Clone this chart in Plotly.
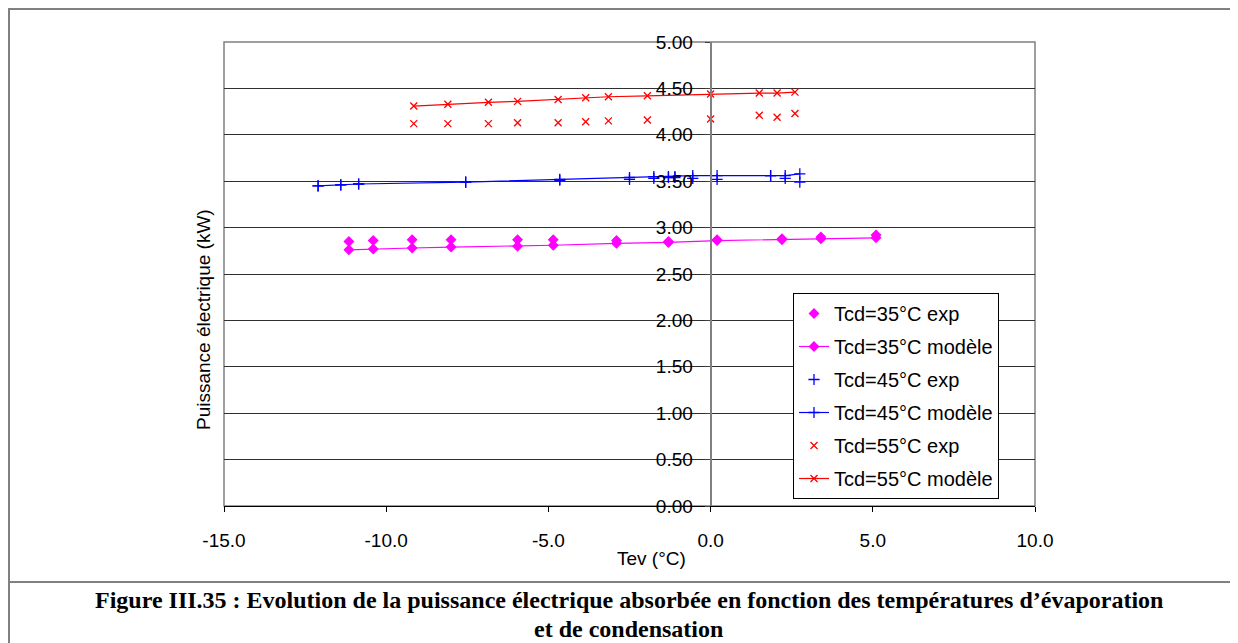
import plotly.graph_objects as go

# ---------------- data ----------------
mag_tev = [-11.15, -10.4, -9.2, -8.0, -5.95, -4.85, -2.9, -1.3, 0.2, 2.2, 3.4, 5.1]
mag_exp = [2.85, 2.86, 2.87, 2.87, 2.87, 2.87, 2.86, 2.85, 2.87, 2.88, 2.90, 2.92]
mag_model = [2.76, 2.77, 2.78, 2.79, 2.80, 2.81, 2.83, 2.84, 2.86, 2.87, 2.88, 2.89]

blue_tev = [-12.1, -11.4, -10.85, -7.55, -4.65, -2.5, -1.75, -1.3, -1.1, -0.55, 0.2, 1.85, 2.3, 2.75]
blue_exp = [3.45, 3.46, 3.47, 3.49, 3.51, 3.52, 3.53, 3.54, 3.54, 3.53, 3.52, 3.56, 3.53, 3.49]
blue_model = [3.45, 3.46, 3.47, 3.49, 3.52, 3.54, 3.55, 3.55, 3.55, 3.56, 3.56, 3.56, 3.56, 3.58]

red_tev = [-9.15, -8.1, -6.85, -5.95, -4.7, -3.85, -3.15, -1.95, 0.0, 1.5, 2.05, 2.6]
red_exp = [4.12, 4.12, 4.12, 4.13, 4.13, 4.14, 4.15, 4.16, 4.17, 4.21, 4.19, 4.23]
red_model = [4.31, 4.33, 4.35, 4.36, 4.38, 4.40, 4.41, 4.42, 4.44, 4.45, 4.45, 4.46]

x_tickvals = [-15, -10, -5, 0, 5, 10]
x_ticktext = ["-15.0", "-10.0", "-5.0", "0.0", "5.0", "10.0"]
y_tickvals = [0, 0.5, 1, 1.5, 2, 2.5, 3, 3.5, 4, 4.5, 5]
y_ticktext = ["0.00", "0.50", "1.00", "1.50", "2.00", "2.50", "3.00", "3.50", "4.00", "4.50", "5.00"]

names = ["Tcd=35°C exp", "Tcd=35°C modèle", "Tcd=45°C exp", "Tcd=45°C modèle",
         "Tcd=55°C exp", "Tcd=55°C modèle"]

x_title = "Tev (°C)"
y_title = "Puissance électrique (kW)"
caption_1 = ("Figure III.35 : Evolution de la puissance électrique absorbée en fonction des "
             "températures d’évaporation")
caption_2 = "et de condensation"

# ---------------- layout geometry ----------------
# the page body has an 8px margin: figure pixel = screen pixel - 8
OFF = 8
W, H = 1238 - OFF, 643 - OFF
L, R, T, B = 224 - OFF, 1035 - OFF, 42 - OFF, 506 - OFF
PW, PH = R - L, B - T


def px(xs):
    """screen x -> paper x"""
    return (xs - OFF - L) / PW


def py(ys):
    """screen y -> paper y"""
    return (B - (ys - OFF)) / PH


FONT = "Arial, Liberation Sans, sans-serif"
SERIF = "Liberation Serif, Times New Roman, serif"
MAG, BLUE, RED = "#FF00FF", "#0000FF", "#FF0000"

fig = go.Figure()

specs = [
    (mag_tev, mag_exp, names[0], MAG, "diamond", 7, "markers"),
    (mag_tev, mag_model, names[1], MAG, "diamond", 7, "lines+markers"),
    (blue_tev, blue_exp, names[2], BLUE, "cross-thin", 8, "markers"),
    (blue_tev, blue_model, names[3], BLUE, "cross-thin", 8, "lines+markers"),
    (red_tev, red_exp, names[4], RED, "x-thin", 7, "markers"),
    (red_tev, red_model, names[5], RED, "x-thin", 7, "lines+markers"),
]
for i, (xs, ys, nm, col, sym, sz, mode) in enumerate(specs):
    fig.add_trace(go.Scatter(
        x=xs, y=ys, name=nm, mode=mode, legendgroup=f"g{i}",
        line=dict(color=col, width=1.2),
        marker=dict(symbol=sym, size=sz, color=col,
                    line=dict(color=col, width=1.3)),
    ))

shapes = [
    # plot-area border
    dict(type="rect", xref="paper", yref="paper", x0=0, x1=1, y0=0, y1=1,
         line=dict(color="#808080", width=1.5), layer="below"),
    # outer frame
    dict(type="rect", xref="paper", yref="paper", x0=px(9), x1=px(1235), y0=py(9), y1=py(680),
         line=dict(color="#808080", width=2), layer="below"),
    # caption separator
    dict(type="line", xref="paper", yref="paper", x0=px(9), x1=px(1235), y0=py(582), y1=py(582),
         line=dict(color="#808080", width=2), layer="below"),
]

annotations = [
    dict(text=x_title, xref="paper", yref="paper", x=px(651), y=py(558),
         showarrow=False, font=dict(family=FONT, size=19, color="black"),
         xanchor="center", yanchor="middle"),
    dict(text=y_title, xref="paper", yref="paper", x=px(203), y=py(320),
         showarrow=False, textangle=-90, font=dict(family=FONT, size=19, color="black"),
         xanchor="center", yanchor="middle"),
    dict(text="<b>" + caption_1 + "</b>", xref="paper", yref="paper", x=px(629), y=py(600),
         showarrow=False, font=dict(family=SERIF, size=24, color="black"),
         xanchor="center", yanchor="middle"),
    dict(text="<b>" + caption_2 + "</b>", xref="paper", yref="paper", x=px(628), y=py(629),
         showarrow=False, font=dict(family=SERIF, size=24, color="black"),
         xanchor="center", yanchor="middle"),
]

fig.update_layout(
    width=W, height=H,
    margin=dict(l=L, r=W - R, t=T, b=H - B, pad=0),
    paper_bgcolor="white", plot_bgcolor="white",
    font=dict(family=FONT, size=18, color="black"),
    showlegend=True,
    legend=dict(
        x=px(793), y=py(293), xanchor="left", yanchor="top",
        bgcolor="white", bordercolor="black", borderwidth=1,
        font=dict(family=FONT, size=20, color="black"),
        tracegroupgap=4, itemwidth=30,
    ),
    xaxis=dict(
        range=[-15, 10], tickvals=x_tickvals, ticktext=x_ticktext,
        showgrid=False, zeroline=False,
        showline=True, linecolor="black", linewidth=1,
        ticks="outside", ticklen=5, tickcolor="black",
        ticklabelstandoff=12,
        tickfont=dict(family=FONT, size=19, color="black"),
    ),
    yaxis=dict(
        range=[0, 5], tickvals=y_tickvals, ticktext=y_ticktext,
        anchor="free", position=px(710.6),
        showgrid=True, gridcolor="#303030", gridwidth=1,
        zeroline=False,
        showline=True, linecolor="#808080", linewidth=2,
        ticks="outside", ticklen=5, tickcolor="#404040",
        ticklabelstandoff=8,
        tickfont=dict(family=FONT, size=19, color="black"),
    ),
    shapes=shapes,
    annotations=annotations,
)

fig.write_html("out.html")
